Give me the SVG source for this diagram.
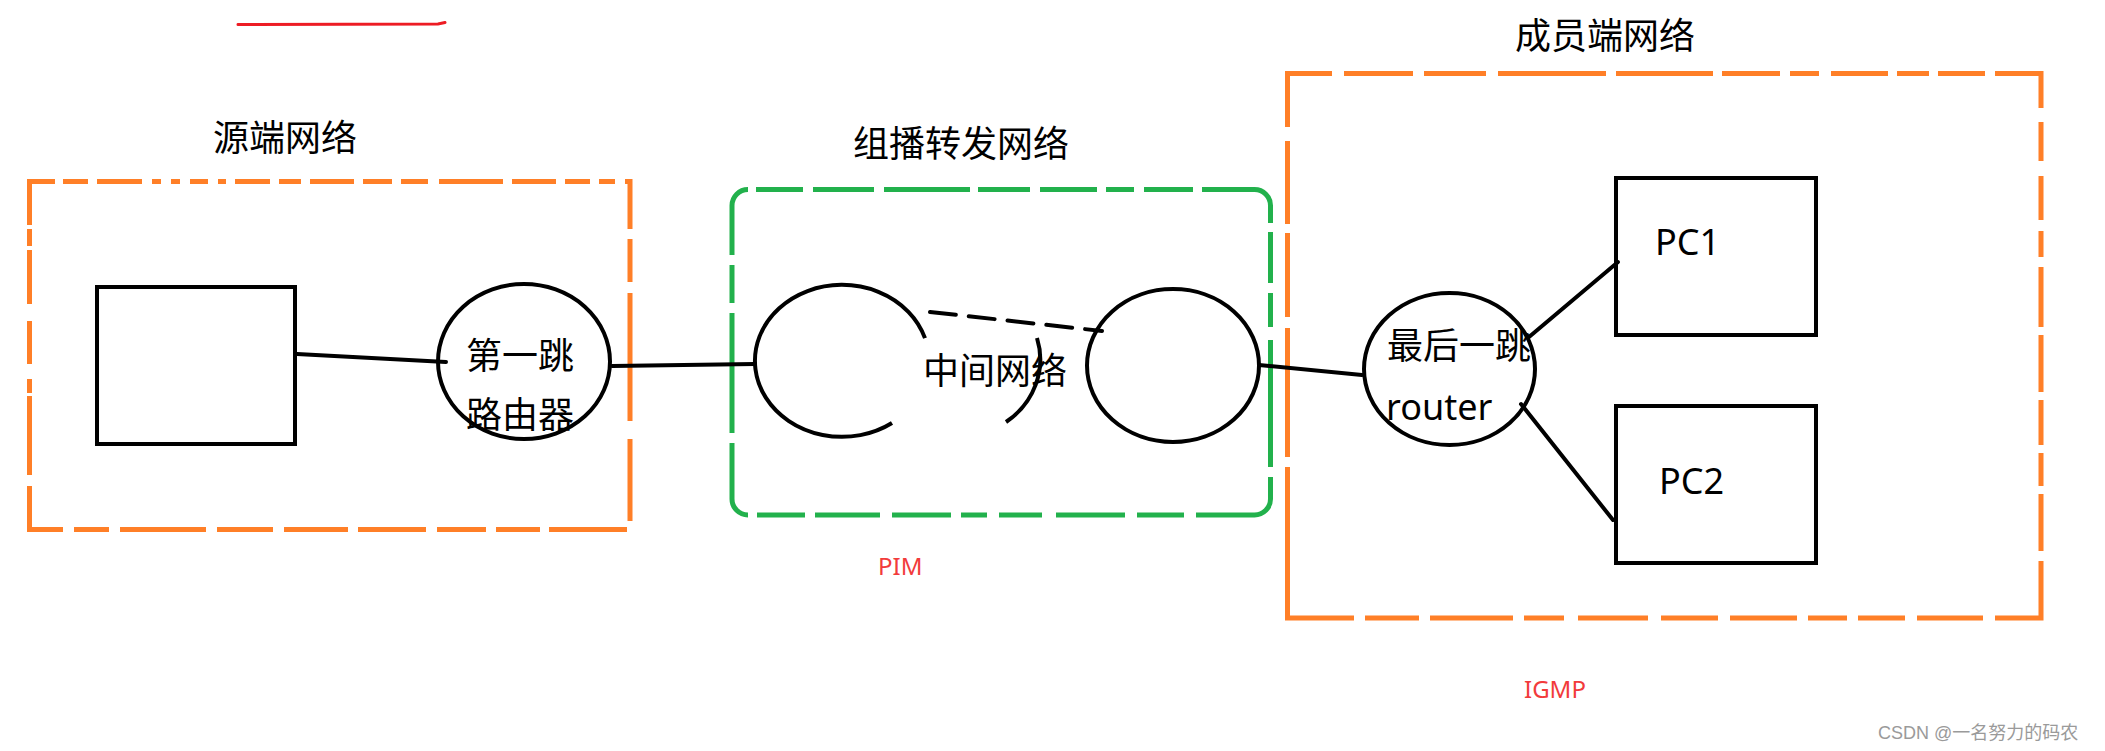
<svg xmlns="http://www.w3.org/2000/svg" width="2105" height="751" viewBox="0 0 2105 751">
<style>
.bg{fill:#ffffff}
.orange{fill:none;stroke:#FF7F27;stroke-width:5;stroke-linecap:butt}
.green{fill:none;stroke:#22B14C;stroke-width:5;stroke-linecap:butt}
.shape{fill:none;stroke:#000;stroke-width:4}
.conn{fill:none;stroke:#000;stroke-width:4;stroke-linecap:round}
.title{font-family:"Noto Sans CJK SC","Microsoft YaHei",sans-serif;font-size:36px;fill:#000;text-anchor:middle}
.lbl{font-family:"Noto Sans CJK SC","Microsoft YaHei",sans-serif;font-size:36px;fill:#000}
.latin{font-family:"Noto Sans","Open Sans",sans-serif;font-size:36px;fill:#000}
.red{font-family:"Noto Sans","Open Sans",sans-serif;font-size:24px;fill:#F23B3B}
.wm{font-family:"Liberation Sans","Noto Sans CJK SC",sans-serif;font-size:18px;fill:#9a9a9a}
</style>
<rect class="bg" x="0" y="0" width="2105" height="751"/>

<path d="M238 24.5 L438 24 L445 22.5" fill="none" stroke="#ED1C24" stroke-width="3" stroke-linecap="round"/>

<g id="source-network">
<path class="orange" d="M27 181.5H55M63 181.5H88M97 181.5H142M152 181.5H161M171 181.5H180M190 181.5H208M218 181.5H226M235 181.5H270M279 181.5H301M310 181.5H354M363 181.5H392M401 181.5H428M439 181.5H503M512 181.5H556M565 181.5H590M599 181.5H615M625 181.5H632.5
M29.5 179V225M29.5 229V246M29.5 250V304M29.5 321V364M29.5 379V393M29.5 396V475M29.5 486V532
M630 179V229M630 239V282M630 293V421M630 439V521
M27 529.5H63M74 529.5H109M120 529.5H206M217 529.5H273M284 529.5H348M358 529.5H426M437 529.5H486M496 529.5H540M549 529.5H627"/>
<text class="title" x="285" y="151">源端网络</text>
</g>

<g id="source-host">
<rect class="shape" x="97" y="287" width="198" height="157"/>
</g>

<g id="first-hop-router">
<ellipse class="shape" cx="524" cy="361.5" rx="86" ry="77.5"/>
<text class="title" x="520" y="369">第一跳</text>
<text class="title" x="520" y="428">路由器</text>
</g>

<g id="forwarding-network">
<path class="green" d="M732 255V205.5A16 16 0 0 1 748 189.5
M756 189.5H803M813 189.5H874M884 189.5H970M978 189.5H1030M1040 189.5H1097M1106 189.5H1134M1144 189.5H1193
M1202 189.5H1254.5A16 16 0 0 1 1270.5 205.5V223M1270.5 232V283M1270.5 293V327M1270.5 340V467M1270.5 477V499A16 16 0 0 1 1254.5 515H1196
M1184 515H1137M1125 515H1056M1042 515H999M987 515H961M951 515H892M880 515H815M805 515H757
M748 515A16 16 0 0 1 732 499V443M732 433V313M732 303V265"/>
<text class="title" x="961" y="157">组播转发网络</text>
</g>

<g id="intermediate-network">
<path class="shape" d="M925 338.2A87 76 0 1 0 892 423"/>
<path class="shape" d="M1037 338A82 77 0 0 1 1006 422"/>
<ellipse class="shape" cx="1173" cy="365.5" rx="86" ry="76.5"/>
<text class="title" x="995" y="384">中间网络</text>
</g>

<g id="member-network">
<path class="orange" d="M1285 73.5H1332M1344 73.5H1413M1424 73.5H1486M1498 73.5H1606M1616 73.5H1713M1722 73.5H1780M1790 73.5H1819M1831 73.5H1888M1897 73.5H1929M1938 73.5H1985M1995 73.5H2043.5
M1287.5 71V127M1287.5 141V224M1287.5 233V317M1287.5 328V457M1287.5 467V620.5
M2041 71V108M2041 122V161M2041 176V220M2041 231V257M2041 267V327M2041 335V392M2041 400V445M2041 453V486M2041 494V551M2041 561V620.5
M1285 618H1354M1365 618H1419M1430 618H1513M1524 618H1564M1578 618H1648M1661 618H1718M1730 618H1797M1808 618H1847M1858 618H1905M1917 618H1983M1995 618H2043.5"/>
<text class="title" x="1605" y="49">成员端网络</text>
</g>

<g id="last-hop-router">
<ellipse class="shape" cx="1449.5" cy="369" rx="85.5" ry="76"/>
<text class="lbl" x="1387" y="359">最后一跳</text>
<text class="latin" x="1386" y="420">router</text>
</g>

<g id="pc1">
<rect class="shape" x="1616" y="178" width="200" height="157"/>
<text class="latin" x="1655" y="255">PC1</text>
</g>

<g id="pc2">
<rect class="shape" x="1616" y="406" width="200" height="157"/>
<text class="latin" x="1659" y="494">PC2</text>
</g>

<g id="connectors">
<line class="conn" x1="297" y1="354" x2="446" y2="362"/>
<line class="conn" x1="612" y1="366" x2="755" y2="364"/>
<line class="conn" x1="930" y1="312" x2="1102" y2="331" stroke-dasharray="26 13" stroke-linecap="butt"/>
<line class="conn" x1="1259" y1="365" x2="1362" y2="375"/>
<line class="conn" x1="1529" y1="337" x2="1618" y2="262"/>
<line class="conn" x1="1521" y1="404" x2="1613" y2="520"/>
</g>

<text class="red" x="878" y="575">PIM</text>
<text class="red" x="1524" y="698">IGMP</text>
<text class="wm" x="1878" y="739">CSDN @一名努力的码农</text>
</svg>
